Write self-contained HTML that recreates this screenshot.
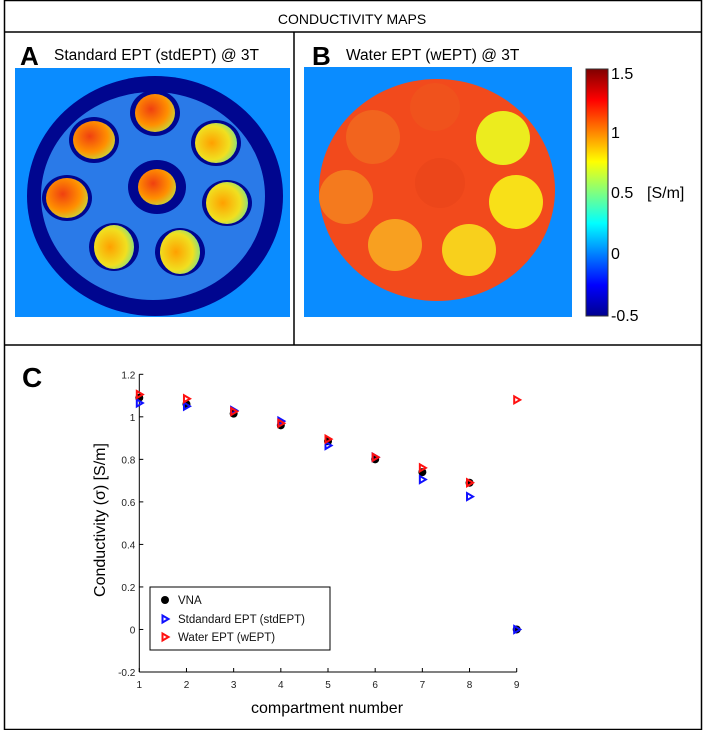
<!DOCTYPE html>
<html><head><meta charset="utf-8"><style>
body{margin:0;width:704px;height:730px;background:#fff;overflow:hidden;font-family:"Liberation Sans",sans-serif}
</style></head><body>
<svg width="704" height="730" viewBox="0 0 704 730">
<defs>
<linearGradient id="jet" x1="0" y1="1" x2="0" y2="0">
<stop offset="0" stop-color="#00008f"/><stop offset="0.125" stop-color="#0000ff"/><stop offset="0.375" stop-color="#00ffff"/><stop offset="0.625" stop-color="#ffff00"/><stop offset="0.875" stop-color="#ff0000"/><stop offset="1" stop-color="#800000"/>
</linearGradient>
<radialGradient id="hotA" cx="0.4" cy="0.4" r="0.7"><stop offset="0" stop-color="#f04010"/><stop offset="0.6" stop-color="#ff9000"/><stop offset="1" stop-color="#c0e040"/></radialGradient>
<radialGradient id="warmA" cx="0.4" cy="0.5" r="0.7"><stop offset="0" stop-color="#ffa000"/><stop offset="0.6" stop-color="#f0e020"/><stop offset="1" stop-color="#60e0a0"/></radialGradient>
</defs>
<rect x="4.5" y="0.5" width="697" height="729" fill="none" stroke="#000" stroke-width="1.5"/>
<line x1="4" y1="32" x2="702" y2="32" stroke="#000" stroke-width="1.5"/>
<line x1="294" y1="32" x2="294" y2="345" stroke="#000" stroke-width="1.5"/>
<line x1="4" y1="345" x2="702" y2="345" stroke="#000" stroke-width="1.5"/>
<text x="352" y="24" font-size="14" text-anchor="middle">CONDUCTIVITY MAPS</text>
<text x="20" y="65" font-size="26" font-weight="bold">A</text>
<text x="54" y="60" font-size="15.5">Standard EPT (stdEPT) @ 3T</text>
<text x="312" y="65" font-size="26" font-weight="bold">B</text>
<text x="346" y="60" font-size="15.5">Water EPT (wEPT) @ 3T</text>

<g>
<rect x="15" y="68" width="275" height="249" fill="#0a8cff"/>
<ellipse cx="155" cy="196" rx="128" ry="120" fill="#00068f"/>
<ellipse cx="153" cy="196" rx="112" ry="104" fill="#2a7ae8"/>
<g fill="#00068f">
<ellipse cx="155" cy="113" rx="25" ry="23"/><ellipse cx="94" cy="140" rx="25" ry="23"/><ellipse cx="216" cy="143" rx="25" ry="23"/><ellipse cx="157" cy="187" rx="29" ry="27"/><ellipse cx="67" cy="198" rx="25" ry="23"/><ellipse cx="227" cy="203" rx="25" ry="23"/><ellipse cx="114" cy="247" rx="25" ry="24"/><ellipse cx="180" cy="252" rx="25" ry="24"/>
</g>
<ellipse cx="155" cy="113" rx="20" ry="19" fill="url(#hotA)"/>
<ellipse cx="94" cy="140" rx="21" ry="19" fill="url(#hotA)"/>
<ellipse cx="216" cy="143" rx="21" ry="20" fill="url(#warmA)"/>
<ellipse cx="157" cy="187" rx="19" ry="18" fill="url(#hotA)"/>
<ellipse cx="67" cy="198" rx="21" ry="20" fill="url(#hotA)"/>
<ellipse cx="227" cy="203" rx="21" ry="21" fill="url(#warmA)"/>
<ellipse cx="114" cy="247" rx="20" ry="22" fill="url(#warmA)"/>
<ellipse cx="180" cy="252" rx="20" ry="22" fill="url(#warmA)"/>
</g>

<g>
<rect x="304" y="67" width="268" height="250" fill="#0a8cff"/>
<ellipse cx="437" cy="190" rx="118" ry="111" fill="#f24a1c"/>
<ellipse cx="503" cy="138" rx="27" ry="27" fill="#ecec1e"/>
<ellipse cx="516" cy="202" rx="27" ry="27" fill="#f8e018"/>
<ellipse cx="469" cy="250" rx="27" ry="26" fill="#f8d01c"/>
<ellipse cx="395" cy="245" rx="27" ry="26" fill="#f8a020"/>
<ellipse cx="346" cy="197" rx="27" ry="27" fill="#f47a1e"/>
<ellipse cx="373" cy="137" rx="27" ry="27" fill="#f2641e"/>
<ellipse cx="435" cy="107" rx="25" ry="24" fill="#f0521c"/>
<ellipse cx="440" cy="183" rx="25" ry="25" fill="#ec461a"/>
</g>

<g>
<rect x="586" y="69" width="22" height="247" fill="url(#jet)" stroke="#333" stroke-width="1"/>
<g font-size="16" fill="#000">
<text x="611" y="79">1.5</text><text x="611" y="138">1</text><text x="611" y="198">0.5</text><text x="611" y="259">0</text><text x="611" y="321">-0.5</text>
<text x="647" y="198">[S/m]</text>
</g>
</g>

<text x="22" y="387" font-size="28" font-weight="bold">C</text>
<g id="chart"></g>
<script>
const categories=[1,2,3,4,5,6,7,8,9];
const vnaValues=[1.09,1.06,1.015,0.96,0.885,0.80,0.74,0.69,0.0];
const stdValues=[1.065,1.05,1.03,0.98,0.865,0.81,0.705,0.625,0.0];
const waterValues=[1.105,1.085,1.025,0.97,0.895,0.81,0.76,0.69,1.08];
const yTicks=[-0.2,0,0.2,0.4,0.6,0.8,1,1.2];
const xTicks=[1,2,3,4,5,6,7,8,9];
const NS='http://www.w3.org/2000/svg';
const g=document.getElementById('chart');
const x0=139.3,x1=516.7,yTop=374.3,yBot=672;
function xs(v){return x0+(v-1)*(x1-x0)/8;}
function ys(v){return yBot-(v+0.2)*(yBot-yTop)/1.4;}
function mk(tag,attrs){const e=document.createElementNS(NS,tag);for(const k in attrs)e.setAttribute(k,attrs[k]);g.appendChild(e);return e;}
const ya=mk('line',{x1:x0,y1:yTop,x2:x0,y2:yBot,stroke:'#000','stroke-width':1});


const xa=mk('line',{x1:x0,y1:yBot,x2:x1,y2:yBot,stroke:'#000','stroke-width':1});


yTicks.forEach(t=>{
 mk('line',{x1:x0,y1:ys(t),x2:x0+4,y2:ys(t),stroke:'#000'});
 const tx=mk('text',{x:x0-4,y:ys(t)+4,'font-size':10,'text-anchor':'end',fill:'#222'});
 tx.textContent=String(t);
 
 
});
xTicks.forEach(t=>{
 mk('line',{x1:xs(t),y1:yBot,x2:xs(t),y2:yBot-4,stroke:'#000'});
 const tx=mk('text',{x:xs(t),y:yBot+16,'font-size':10,'text-anchor':'middle',fill:'#222'});
 tx.textContent=String(t);
 
 
});
function tri(cx,cy,col){return mk('path',{d:`M${cx-2.5},${cy-3.5} L${cx+3.5},${cy} L${cx-2.5},${cy+3.5} Z`,fill:'none',stroke:col,'stroke-width':2});}
categories.forEach((c,i)=>{
 const a=mk('circle',{cx:xs(c),cy:ys(vnaValues[i]),r:4,fill:'#000'});
 
 
});
categories.forEach((c,i)=>{
 const b=tri(xs(c),ys(stdValues[i]),'#1010ff');
 
 
});
categories.forEach((c,i)=>{
 const d=tri(xs(c),ys(waterValues[i]),'#ff1010');
 
 
});
</script>
<text transform="translate(105,520) rotate(-90)" font-size="16" text-anchor="middle">Conductivity (σ) [S/m]</text>
<text x="327" y="713" font-size="16" text-anchor="middle">compartment number</text>
<g>
<rect x="150" y="587" width="180" height="63" fill="#fff" stroke="#000" stroke-width="1"/>
<circle cx="165" cy="600" r="4" fill="#000"/>
<path d="M162.5,615.5 L168.5,619 L162.5,622.5 Z" fill="none" stroke="#1010ff" stroke-width="2"/>
<path d="M162.5,633.5 L168.5,637 L162.5,640.5 Z" fill="none" stroke="#ff1010" stroke-width="2"/>
<g font-size="11.5" fill="#111">
<text x="178" y="604">VNA</text>
<text x="178" y="623">Stdandard EPT (stdEPT)</text>
<text x="178" y="641">Water EPT (wEPT)</text>
</g>
</g>
</svg>
</body></html>
